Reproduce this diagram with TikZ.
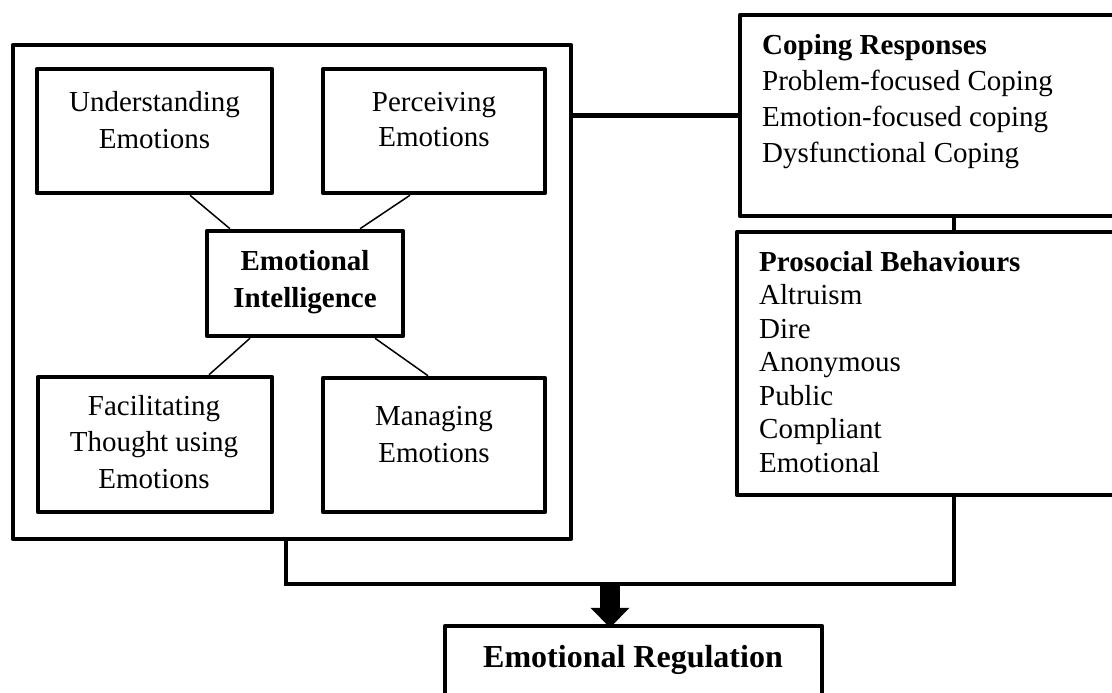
\documentclass[tikz,border=0pt]{standalone}
\usepackage{fontspec}
\setmainfont{Liberation Serif}
\usetikzlibrary{arrows.meta}
\begin{document}
\begin{tikzpicture}[x=1pt,y=-1pt,
  box/.style={draw, line width=4.5pt, line join=round, inner sep=0pt, rectangle},
  txt/.style={inner sep=0pt, font=\fontsize{29}{36}\selectfont},
  link/.style={line width=1.5pt},
  bus/.style={line width=4.5pt, line join=miter}
]
\useasboundingbox (0,0) rectangle (1112,693);
\clip (0,0) rectangle (1112,693);
\fill[white] (0,0) rectangle (1112,693);

% boxes
\node[box, minimum width=558pt, minimum height=494pt] (outer) at (292,292) {};
\node[box, minimum width=235pt, minimum height=124pt] (und) at (154.5,131) {};
\node[box, minimum width=222pt, minimum height=124pt] (per) at (434,131) {};
\node[box, minimum width=196pt, minimum height=105pt] (ei) at (305,283.5) {};
\node[box, minimum width=234pt, minimum height=135pt] (fac) at (155,444.5) {};
\node[box, minimum width=222pt, minimum height=134pt] (man) at (434,445) {};
\node[box, minimum width=428pt, minimum height=201pt] (cop) at (954,115.5) {};
\node[box, minimum width=434pt, minimum height=263pt] (pro) at (954,363.5) {};
\node[box, minimum width=377pt, minimum height=100pt] (er) at (633.5,676) {};

% texts
\node[txt, anchor=base] (undt) at (154.5,112) {\begin{tabular}[t]{@{}c@{}}Understanding\\Emotions\end{tabular}};
\node[txt, anchor=base, font=\fontsize{29}{35}\selectfont] (pert) at (434,112) {\begin{tabular}[t]{@{}c@{}}Perceiving\\Emotions\end{tabular}};
\node[txt, anchor=base, font=\fontsize{29}{37}\selectfont\bfseries] (eit) at (305,270) {\begin{tabular}[t]{@{}c@{}}Emotional\\Intelligence\end{tabular}};
\node[txt, anchor=base, font=\fontsize{29}{36.5}\selectfont] (fact) at (154,415) {\begin{tabular}[t]{@{}c@{}}Facilitating\\Thought using\\Emotions\end{tabular}};
\node[txt, anchor=base, font=\fontsize{29}{37}\selectfont] (mant) at (434,425) {\begin{tabular}[t]{@{}c@{}}Managing\\Emotions\end{tabular}};
\node[txt, anchor=base west] (copt) at (762,55) {\begin{tabular}[t]{@{}l@{}}\textbf{Coping Responses}\\Problem-focused Coping\\Emotion-focused coping\\Dysfunctional Coping\end{tabular}};
\node[txt, anchor=base west, font=\fontsize{29}{33.5}\selectfont] (prot) at (759,271) {\begin{tabular}[t]{@{}l@{}}\textbf{Prosocial Behaviours}\\Altruism\\Dire\\Anonymous\\Public\\Compliant\\Emotional\end{tabular}};
\node[txt, anchor=base, font=\fontsize{32}{38}\selectfont\bfseries] (ert) at (633,667) {Emotional Regulation};

% thin links inside
\draw[link] ([xshift=35.5pt]und.south) -- ([xshift=-75pt]ei.north);
\draw[link] ([xshift=-24pt]per.south) -- ([xshift=55pt]ei.north);
\draw[link] ([xshift=-55pt]ei.south) -- ([xshift=54pt]fac.north);
\draw[link] ([xshift=70pt]ei.south) -- ([xshift=-6pt]man.north);

% thick connectors
\draw[bus] (cop.west -| outer.east) -- (cop.west);
\draw[bus] (cop.south) -- (pro.north);
\coordinate (j) at (610,584);
\draw[bus] ([xshift=-6pt]outer.south) |- (j) -| (pro.south);
\fill (600,584) rectangle (620,610);
\draw[line width=0pt, -{Triangle[width=39pt,length=20pt]}] (j) -- ([yshift=-4pt]j |- er.north);
\end{tikzpicture}
\end{document}
